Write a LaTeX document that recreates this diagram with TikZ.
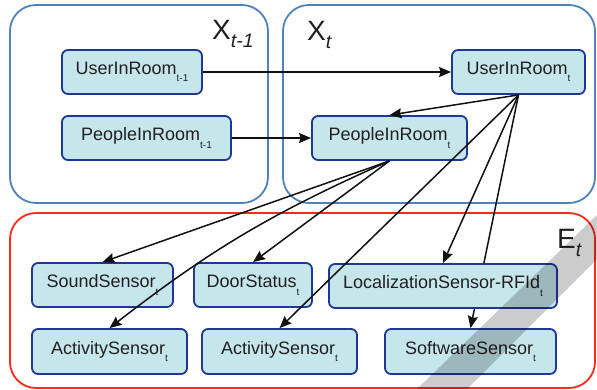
\documentclass[tikz,border=0pt]{standalone}
\usepackage{fontspec}
\setmainfont{Liberation Sans}
\usetikzlibrary{arrows.meta,backgrounds}
\definecolor{nodefill}{HTML}{C5E6EB}
\definecolor{nodeborder}{HTML}{1F3896}
\definecolor{groupblue}{HTML}{4F81BD}
\definecolor{groupred}{HTML}{FF2A1E}
\definecolor{textcol}{HTML}{231F20}
\definecolor{linecol}{HTML}{111111}
\newcommand\subsc[1]{\raisebox{-7.5pt}{\fontsize{10}{12}\selectfont #1}}
\newcommand\biglabel[2]{#1\raisebox{-8pt}{\fontsize{19.5}{22}\selectfont\itshape #2}}
\begin{document}
\begin{tikzpicture}[x=1pt,y=-1pt,
  var/.style={draw=nodeborder, fill=nodefill, line width=1.8pt, rounded corners=6pt,
    minimum height=44pt, inner sep=0pt, font=\fontsize{18}{21}\selectfont, text=textcol},
  link/.style={line width=1.5pt, draw=linecol, -{Stealth[length=12pt,width=10pt,inset=1.5pt]}},
  group/.style={line width=1.8pt, rounded corners=26pt},
  title/.style={anchor=base west, inner sep=0pt, font=\fontsize{28}{30}\selectfont, text=textcol}]
\useasboundingbox (0,0) rectangle (597,389);

% nodes
\node[var, minimum width=140pt] (u1) at (132,72) {UserInRoom\subsc{t-1}};
\node[var, minimum width=169pt] (p1) at (146.5,138) {PeopleInRoom\subsc{t-1}};
\node[var, minimum width=133pt] (ut) at (518.5,72) {UserInRoom\subsc{t}};
\node[var, minimum width=155pt] (pt) at (389.5,138) {PeopleInRoom\subsc{t}};
\node[var, minimum width=141pt] (snd) at (102.5,285) {SoundSensor\subsc{t}};
\node[var, minimum width=118pt] (door) at (253,285) {DoorStatus\subsc{t}};
\node[var, minimum width=228pt] (loc) at (443,286) {LocalizationSensor-RFId\subsc{t}};
\node[var, minimum width=155pt, minimum height=45pt] (act1) at (109.5,351.5) {ActivitySensor\subsc{t}};
\node[var, minimum width=155pt, minimum height=45pt] (act2) at (279.5,351.5) {ActivitySensor\subsc{t}};
\node[var, minimum width=171pt, minimum height=45pt] (soft) at (470.5,351.5) {SoftwareSensor\subsc{t}};

% group labels
\node[title] (lx1) at (212,39) {\biglabel{X}{t-1}};
\node[title] (lxt) at (307,40) {\biglabel{X}{t}};

\begin{scope}[on background layer]
  \draw[group, draw=groupblue] (10,5) rectangle (268,203);
  \draw[group, draw=groupblue] (283,5) rectangle (595,203);
  \draw[group, draw=groupred] (10,213) rectangle (595,388);
  \draw[link] (ut.south) -- (soft.north);
\end{scope}

\draw[link] (u1) -- (ut);
\draw[link] (p1) -- (pt);
\draw[link] (ut.south) -- (pt.north);
\draw[link] (ut.south) -- (act2.north);
\draw[link] (ut.south) -- (loc.north);
\draw[link] (pt.south) -- (snd.north);
\draw[link] (pt.south) -- (door.north);
\draw[link] (pt.south) to[bend right=7] (act1.north);

% translucent diagonal band
\fill[black, opacity=0.2] (417,389) -- (467,389) -- (597,259) -- (597,215) -- cycle;

\node[title] (let) at (557,248) {\biglabel{E}{t}};
\end{tikzpicture}
\end{document}
